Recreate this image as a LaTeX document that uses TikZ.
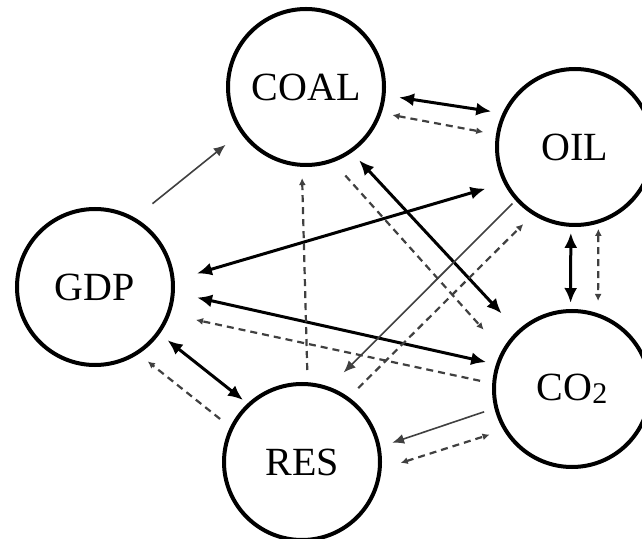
\documentclass[tikz,border=0pt]{standalone}
\usepackage{fontspec}
\setmainfont{Liberation Serif}
\usetikzlibrary{arrows.meta}

% one unit = 0.5pt, y grows downwards
\tikzset{
  var/.style={circle, draw, line width=2pt, minimum size=78pt, inner sep=0pt,
    outer sep=1pt, font=\fontsize{20}{24}\selectfont},
  thickpair/.style={line width=1.5pt, black,
    {Latex[length=7.5pt,width=6.5pt]}-{Latex[length=7.5pt,width=6.5pt]}},
  thinone/.style={line width=0.8pt, black!75,
    -{Latex[length=6pt,width=5pt]}},
  dashpair/.style={line width=1.1pt, black!75, dash pattern=on 3.5pt off 2.5pt,
    {Latex[length=3.5pt,width=3.5pt]}-{Latex[length=3.5pt,width=3.5pt]}},
  dashone/.style={line width=1.1pt, black!75, dash pattern=on 3.5pt off 2.5pt,
    -{Latex[length=3.5pt,width=3.5pt]}},
}

\begin{document}
\begin{tikzpicture}[x=0.5pt, y=-0.5pt]
  \useasboundingbox (0,0) rectangle (642,539);
  \fill[white] (0,0) rectangle (642,539);
  \clip (0,0) rectangle (642,539);

  % variables
  \node[var] (coal) at (306,87)  {COAL};
  \node[var] (oil)  at (575,147) {OIL};
  \node[var] (gdp)  at (95,287)  {GDP};
  \node[var] (co2)  at (572,389) {CO{\fontsize{15}{15}\selectfont\raisebox{-1.5pt}{2}}};
  \node[var] (res)  at (302,462) {RES};

  % causal links
  \draw[thinone, shorten <=11.2pt, shorten >=9.5pt] (gdp.60.5) -- (coal.-145.8);
  \draw[thickpair, shorten <=6.8pt, shorten >=5.7pt] (coal.-6.5) -- (oil.155.4);
  \draw[dashpair, shorten <=5.5pt, shorten >=6.5pt] (coal.-19.7) -- (oil.171.7);
  \draw[thickpair, shorten <=9.5pt, shorten >=11.6pt] (oil.-153.6) -- (gdp.5.3);
  \draw[thickpair, shorten <=11.4pt, shorten >=5pt] (gdp.-4.4) -- (co2.162);
  \draw[dashone, shorten <=6.2pt, shorten >=13.2pt] (co2.176.8) -- (gdp.-20);
  \draw[thickpair, shorten <=5pt, shorten >=2.8pt] (gdp.-36.8) -- (res.133);
  \draw[dashone, shorten <=6.4pt, shorten >=5.9pt] (res.154) -- (gdp.-57.8);
  \draw[dashone, shorten <=6.1pt, shorten >=5.6pt] (res.86.1) -- (coal.-93.8);
  \draw[dashone, shorten <=9pt, shorten >=13.8pt] (coal.-70.4) -- (co2.151.4);
  \draw[thickpair, shorten <=5.3pt, shorten >=11.6pt] (coal.-55.2) -- (co2.133.7);
  \draw[thinone, shorten <=2.2pt, shorten >=10.1pt] (oil.-138.5) -- (res.70.6);
  \draw[dashone, shorten <=6.5pt, shorten >=6.6pt] (res.54.1) -- (oil.-122.2);
  \draw[thickpair, shorten <=3pt, shorten >=3pt] (oil.-93.3) -- (co2.91.3);
  \draw[dashpair, shorten <=2.7pt, shorten >=6.2pt] (oil.-73.3) -- (co2.71);
  \draw[thinone, shorten <=5.4pt, shorten >=6.1pt] (co2.-166.6) -- (res.11.6);
  \draw[dashpair, shorten <=10pt, shorten >=7.3pt] (res.-5.2) -- (co2.-149.7);
\end{tikzpicture}
\end{document}
